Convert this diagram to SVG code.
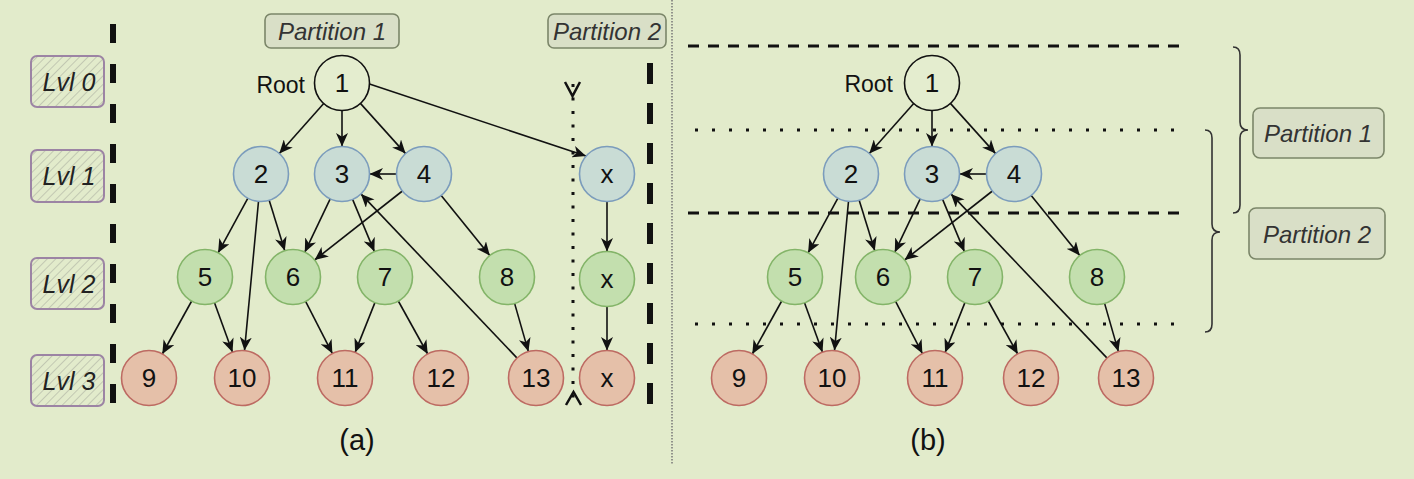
<svg xmlns="http://www.w3.org/2000/svg" width="1414" height="479" viewBox="0 0 1414 479">
<style>
text{font-family:"Liberation Sans",Arial,sans-serif;fill:#111}
.num{font-size:26px;text-anchor:middle;dominant-baseline:central}
.blue{fill:#c9dcd5;stroke:#7b9cbc;stroke-width:1.6}
.green{fill:#c3dfae;stroke:#83b468;stroke-width:1.6}
.red{fill:#e5c0a9;stroke:#bd6a62;stroke-width:1.6}
.root{fill:#e4edcf;stroke:#111;stroke-width:1.6}
.edge{stroke:#111;stroke-width:1.6;fill:none;marker-end:url(#ah)}
.lvl{fill:url(#hatch);stroke:#9c84a4;stroke-width:2}
.lvlt{font-size:25px;font-style:italic;text-anchor:middle;dominant-baseline:central;fill:#222}
.part{fill:#d9dfc7;stroke:#7b8669;stroke-width:1.6}
.partt{font-size:24px;font-style:italic;text-anchor:middle;dominant-baseline:central;fill:#333}
.cap{font-size:29px;text-anchor:middle;dominant-baseline:central}
.rootl{font-size:23px;text-anchor:end;dominant-baseline:central}
.thick{stroke:#111;stroke-width:6;fill:none}
.hdash{stroke:#111;stroke-width:3;stroke-dasharray:11 9;fill:none}
.hdot{stroke:#111;stroke-width:3;stroke-dasharray:3 14;fill:none}
.brace{stroke:#333;stroke-width:1.6;fill:none}
</style>
<defs>
<marker id="ah" markerUnits="userSpaceOnUse" markerWidth="14" markerHeight="12" viewBox="0 0 14 12" refX="13.5" refY="6" orient="auto">
<path d="M0,0 L13.5,6 L0,12 L3.8,6 z" fill="#111"/>
</marker>
<pattern id="hatch" patternUnits="userSpaceOnUse" width="6" height="6" patternTransform="rotate(45)">
<rect width="6" height="6" fill="#e2ebcb"/>
<line x1="0" y1="0" x2="0" y2="6" stroke="#b8bdaa" stroke-width="1.5"/>
</pattern>
</defs>
<rect width="1414" height="479" fill="#e2ebcb"/>

<g id="decor">
<line x1="113" y1="24" x2="113" y2="406" class="thick" stroke-dasharray="19 21"/>
<line x1="650" y1="63" x2="650" y2="406" class="thick" stroke-dasharray="21 19"/>
<line x1="672" y1="0" x2="672" y2="465" stroke="#777" stroke-width="1.5" stroke-dasharray="1.5 1.5"/>
<line x1="573" y1="84" x2="573" y2="400" stroke="#111" stroke-width="3" stroke-dasharray="3 10.5"/>
<path d="M565,82 L572.5,96 L580,82" stroke="#111" stroke-width="2.5" fill="none"/>
<path d="M566,405 L573.5,392 L581,405" stroke="#111" stroke-width="2.5" fill="none"/>
<line x1="688" y1="46" x2="1182" y2="46" class="hdash"/>
<line x1="695" y1="130" x2="1185" y2="130" class="hdot"/>
<line x1="688" y1="213" x2="1182" y2="213" class="hdash"/>
<line x1="695" y1="324" x2="1185" y2="324" class="hdot"/>
<path class="brace" d="M1233,47 Q1240,47 1240,55 L1240,122 Q1240,130 1248,130 Q1240,130 1240,138 L1240,205 Q1240,213 1233,213"/>
<path class="brace" d="M1205,130 Q1212,130 1212,138 L1212,224 Q1212,232 1220,232 Q1212,232 1212,240 L1212,324 Q1212,332 1205,332"/>
<text class="cap" x="357" y="440">(a)</text>
<text class="cap" x="928" y="440">(b)</text>
<text class="rootl" x="305" y="85">Root</text>
<text class="rootl" x="893" y="84">Root</text>
</g>

<g id="lvl0"><rect class="lvl" x="31" y="56" width="73" height="51" rx="6"/><text class="lvlt" x="69" y="82">Lvl 0</text></g>
<g id="lvl1"><rect class="lvl" x="31" y="150" width="73" height="52" rx="6"/><text class="lvlt" x="69" y="176">Lvl 1</text></g>
<g id="lvl2"><rect class="lvl" x="31" y="258" width="73" height="51" rx="6"/><text class="lvlt" x="69" y="284">Lvl 2</text></g>
<g id="lvl3"><rect class="lvl" x="31" y="355" width="73" height="51" rx="6"/><text class="lvlt" x="69" y="381">Lvl 3</text></g>

<g id="part1a"><rect class="part" x="265" y="14" width="134" height="34" rx="6"/><text class="partt" x="332" y="31">Partition 1</text></g>
<g id="part2a"><rect class="part" x="548" y="14" width="118" height="34" rx="6"/><text class="partt" x="607" y="31">Partition 2</text></g>
<g id="part1b"><rect class="part" x="1253" y="108" width="131" height="50" rx="7"/><text class="partt" x="1318" y="133">Partition 1</text></g>
<g id="part2b"><rect class="part" x="1249" y="208" width="136" height="51" rx="7"/><text class="partt" x="1317" y="234">Partition 2</text></g>

<g id="connectors">
<g id="edges-a">
<line class="edge" x1="323.7" y1="103.5" x2="279.3" y2="153.5"/>
<line class="edge" x1="342" y1="110.5" x2="342" y2="146.5"/>
<line class="edge" x1="360.4" y1="103.4" x2="405.6" y2="153.6"/>
<line class="edge" x1="369.5" y1="84" x2="586" y2="156"/>
<line class="edge" x1="396.5" y1="174" x2="369.5" y2="174"/>
<line class="edge" x1="247.9" y1="198.2" x2="218.1" y2="252.8"/>
<line class="edge" x1="258.5" y1="201.4" x2="244.5" y2="350.6"/>
<line class="edge" x1="269.2" y1="200.3" x2="284.8" y2="250.7"/>
<line class="edge" x1="330.2" y1="198.8" x2="304.8" y2="252.2"/>
<line class="edge" x1="352.6" y1="199.4" x2="374.4" y2="251.6"/>
<line class="edge" x1="402.4" y1="191" x2="314.6" y2="260"/>
<line class="edge" x1="441.2" y1="195.4" x2="489.8" y2="255.6"/>
<line class="edge" x1="517.1" y1="358.1" x2="360.9" y2="193.9"/>
<line class="edge" x1="191.7" y1="301" x2="162.3" y2="354"/>
<line class="edge" x1="214.5" y1="302.8" x2="232.5" y2="352.2"/>
<line class="edge" x1="305.6" y1="301.4" x2="332.4" y2="353.6"/>
<line class="edge" x1="374.9" y1="302.6" x2="355.1" y2="352.4"/>
<line class="edge" x1="398.3" y1="301" x2="427.7" y2="354"/>
<line class="edge" x1="514.6" y1="303.4" x2="528.4" y2="351.6"/>
<line class="edge" x1="607" y1="201.5" x2="607" y2="251.5"/>
<line class="edge" x1="607" y1="306.5" x2="607" y2="350.5"/>
</g>
<g id="edges-b" transform="translate(590,0)">
<line class="edge" x1="323.7" y1="103.5" x2="279.3" y2="153.5"/>
<line class="edge" x1="342" y1="110.5" x2="342" y2="146.5"/>
<line class="edge" x1="360.4" y1="103.4" x2="405.6" y2="153.6"/>
<line class="edge" x1="396.5" y1="174" x2="369.5" y2="174"/>
<line class="edge" x1="247.9" y1="198.2" x2="218.1" y2="252.8"/>
<line class="edge" x1="258.5" y1="201.4" x2="244.5" y2="350.6"/>
<line class="edge" x1="269.2" y1="200.3" x2="284.8" y2="250.7"/>
<line class="edge" x1="330.2" y1="198.8" x2="304.8" y2="252.2"/>
<line class="edge" x1="352.6" y1="199.4" x2="374.4" y2="251.6"/>
<line class="edge" x1="402.4" y1="191" x2="314.6" y2="260"/>
<line class="edge" x1="441.2" y1="195.4" x2="489.8" y2="255.6"/>
<line class="edge" x1="517.1" y1="358.1" x2="360.9" y2="193.9"/>
<line class="edge" x1="191.7" y1="301" x2="162.3" y2="354"/>
<line class="edge" x1="214.5" y1="302.8" x2="232.5" y2="352.2"/>
<line class="edge" x1="305.6" y1="301.4" x2="332.4" y2="353.6"/>
<line class="edge" x1="374.9" y1="302.6" x2="355.1" y2="352.4"/>
<line class="edge" x1="398.3" y1="301" x2="427.7" y2="354"/>
<line class="edge" x1="514.6" y1="303.4" x2="528.4" y2="351.6"/>
</g>
</g>

<g id="a1"><circle class="root" cx="342" cy="83" r="27.5"/><text class="num" x="342" y="83">1</text></g>
<g id="a2"><circle class="blue" cx="261" cy="174" r="27.5"/><text class="num" x="261" y="174">2</text></g>
<g id="a3"><circle class="blue" cx="342" cy="174" r="27.5"/><text class="num" x="342" y="174">3</text></g>
<g id="a4"><circle class="blue" cx="424" cy="174" r="27.5"/><text class="num" x="424" y="174">4</text></g>
<g id="ax1"><circle class="blue" cx="607" cy="174" r="27.5"/><text class="num" x="607" y="174">x</text></g>
<g id="a5"><circle class="green" cx="205" cy="277" r="27.5"/><text class="num" x="205" y="277">5</text></g>
<g id="a6"><circle class="green" cx="293" cy="277" r="27.5"/><text class="num" x="293" y="277">6</text></g>
<g id="a7"><circle class="green" cx="385" cy="277" r="27.5"/><text class="num" x="385" y="277">7</text></g>
<g id="a8"><circle class="green" cx="507" cy="277" r="27.5"/><text class="num" x="507" y="277">8</text></g>
<g id="ax2"><circle class="green" cx="607" cy="279" r="27.5"/><text class="num" x="607" y="279">x</text></g>
<g id="a9"><circle class="red" cx="149" cy="378" r="27.5"/><text class="num" x="149" y="378">9</text></g>
<g id="a10"><circle class="red" cx="242" cy="378" r="27.5"/><text class="num" x="242" y="378">10</text></g>
<g id="a11"><circle class="red" cx="345" cy="378" r="27.5"/><text class="num" x="345" y="378">11</text></g>
<g id="a12"><circle class="red" cx="441" cy="378" r="27.5"/><text class="num" x="441" y="378">12</text></g>
<g id="a13"><circle class="red" cx="536" cy="378" r="27.5"/><text class="num" x="536" y="378">13</text></g>
<g id="ax3"><circle class="red" cx="607" cy="378" r="27.5"/><text class="num" x="607" y="378">x</text></g>

<g id="b1"><circle class="root" cx="932" cy="83" r="27.5"/><text class="num" x="932" y="83">1</text></g>
<g id="b2"><circle class="blue" cx="851" cy="174" r="27.5"/><text class="num" x="851" y="174">2</text></g>
<g id="b3"><circle class="blue" cx="932" cy="174" r="27.5"/><text class="num" x="932" y="174">3</text></g>
<g id="b4"><circle class="blue" cx="1014" cy="174" r="27.5"/><text class="num" x="1014" y="174">4</text></g>
<g id="b5"><circle class="green" cx="795" cy="277" r="27.5"/><text class="num" x="795" y="277">5</text></g>
<g id="b6"><circle class="green" cx="883" cy="277" r="27.5"/><text class="num" x="883" y="277">6</text></g>
<g id="b7"><circle class="green" cx="975" cy="277" r="27.5"/><text class="num" x="975" y="277">7</text></g>
<g id="b8"><circle class="green" cx="1097" cy="277" r="27.5"/><text class="num" x="1097" y="277">8</text></g>
<g id="b9"><circle class="red" cx="739" cy="378" r="27.5"/><text class="num" x="739" y="378">9</text></g>
<g id="b10"><circle class="red" cx="832" cy="378" r="27.5"/><text class="num" x="832" y="378">10</text></g>
<g id="b11"><circle class="red" cx="935" cy="378" r="27.5"/><text class="num" x="935" y="378">11</text></g>
<g id="b12"><circle class="red" cx="1031" cy="378" r="27.5"/><text class="num" x="1031" y="378">12</text></g>
<g id="b13"><circle class="red" cx="1126" cy="378" r="27.5"/><text class="num" x="1126" y="378">13</text></g>
</svg>
